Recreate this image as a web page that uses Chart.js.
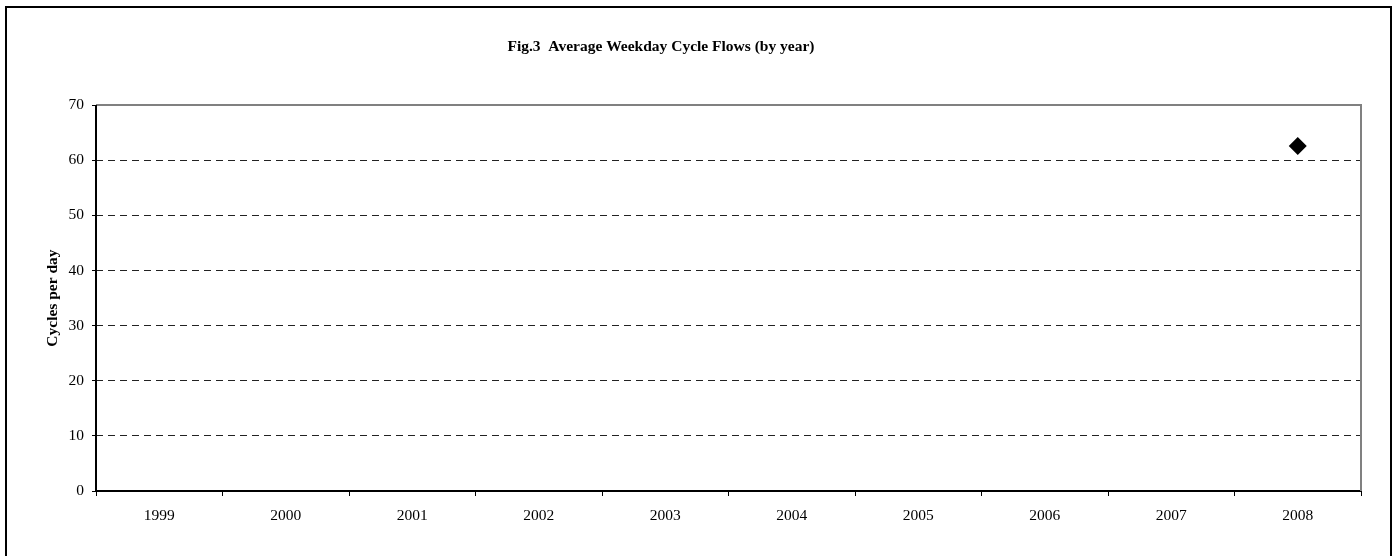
<!DOCTYPE html>
<html>
<head>
<meta charset="utf-8">
<script src="https://cdn.jsdelivr.net/npm/chart.js@4.4.1/dist/chart.umd.min.js"></script>
<style>
  html, body { margin: 0; padding: 0; background: #fff; }
  #wrap { position: relative; width: 1398px; height: 556px; overflow: hidden; }
  #frame {
    position: absolute; left: 5px; top: 6px; width: 1383px; height: 600px;
    border: 2px solid #000; pointer-events: none;
  }
</style>
</head>
<body>
<div id="wrap">
  <canvas id="flowChart" width="1398" height="556"></canvas>
  <div id="frame"></div>
</div>
<script>
// Data
const years = ["1999", "2000", "2001", "2002", "2003", "2004", "2005", "2006", "2007", "2008"];
const cyclesPerDay = [null, null, null, null, null, null, null, null, null, 62.6];
const yTicks = [0, 10, 20, 30, 40, 50, 60, 70];

const serif = "'Liberation Serif', 'Times New Roman', serif";

// grey top/right edge of the plot area, black axis on the left
const plotEdge = {
  id: "plotEdge",
  afterLayout(chart) {
    // the original title sits a little left of centre
    if (chart.titleBlock) chart.titleBlock.right = 1322;
  },
  afterDraw(chart) {
    const a = chart.chartArea;
    const ctx = chart.ctx;
    ctx.save();
    ctx.setLineDash([]);
    ctx.strokeStyle = "#808080";
    ctx.lineWidth = 2;
    ctx.beginPath();
    ctx.moveTo(a.left, a.top);
    ctx.lineTo(a.right, a.top);
    ctx.lineTo(a.right, a.bottom);
    ctx.stroke();
    ctx.strokeStyle = "#000";
    ctx.beginPath();
    ctx.moveTo(a.left, a.top);
    ctx.lineTo(a.left, a.bottom);
    ctx.stroke();
    ctx.restore();
  }
};

const ctx = document.getElementById("flowChart");
new Chart(ctx, {
  type: "line",
  data: {
    labels: years,
    datasets: [{
      label: "Cycles per day",
      data: cyclesPerDay,
      showLine: false,
      pointStyle: "rectRot",
      pointRadius: 9,
      pointBorderWidth: 0,
      backgroundColor: "#000",
      borderColor: "#000"
    }]
  },
  options: {
    responsive: false,
    animation: false,
    layout: { padding: { top: 30, left: 0, right: 37, bottom: 25 } },
    plugins: {
      legend: { display: false },
      tooltip: { enabled: false },
      title: {
        display: true,
        text: "Fig.3  Average Weekday Cycle Flows (by year)",
        color: "#000",
        font: { family: serif, size: 15.5, weight: "bold" },
        padding: { top: 8, bottom: 48.5 }
      }
    },
    scales: {
      x: {
        offset: true,
        afterFit(scale) { scale.height = 40; },
        grid: {
          offset: true,
          drawOnChartArea: false,
          tickLength: 5,
          tickColor: "#000",
          tickWidth: 1
        },
        border: { display: true, color: "#000", width: 2 },
        ticks: {
          color: "#000",
          font: { family: serif, size: 15.5 },
          padding: 11,
          maxRotation: 0
        }
      },
      y: {
        min: 0,
        max: 70,
        afterFit(scale) { scale.width = 96; },
        afterBuildTicks(scale) { scale.ticks = yTicks.map(v => ({ value: v })); },
        grid: {
          color: c => (c.tick && (c.tick.value === 0 || c.tick.value === 70)) ? "rgba(0,0,0,0)" : "#222",
          tickBorderDash: [],
          tickColor: "#000",
          tickLength: 4,
          lineWidth: 1
        },
        border: { display: false, dash: [7, 5] },
        ticks: {
          color: "#000",
          font: { family: serif, size: 15.5 },
          padding: 8
        },
        title: {
          display: true,
          text: "Cycles per day",
          color: "#000",
          font: { family: serif, size: 15.5, weight: "bold" },
          padding: { top: 44, bottom: 0 }
        }
      }
    }
  },
  plugins: [plotEdge]
});
</script>
</body>
</html>
